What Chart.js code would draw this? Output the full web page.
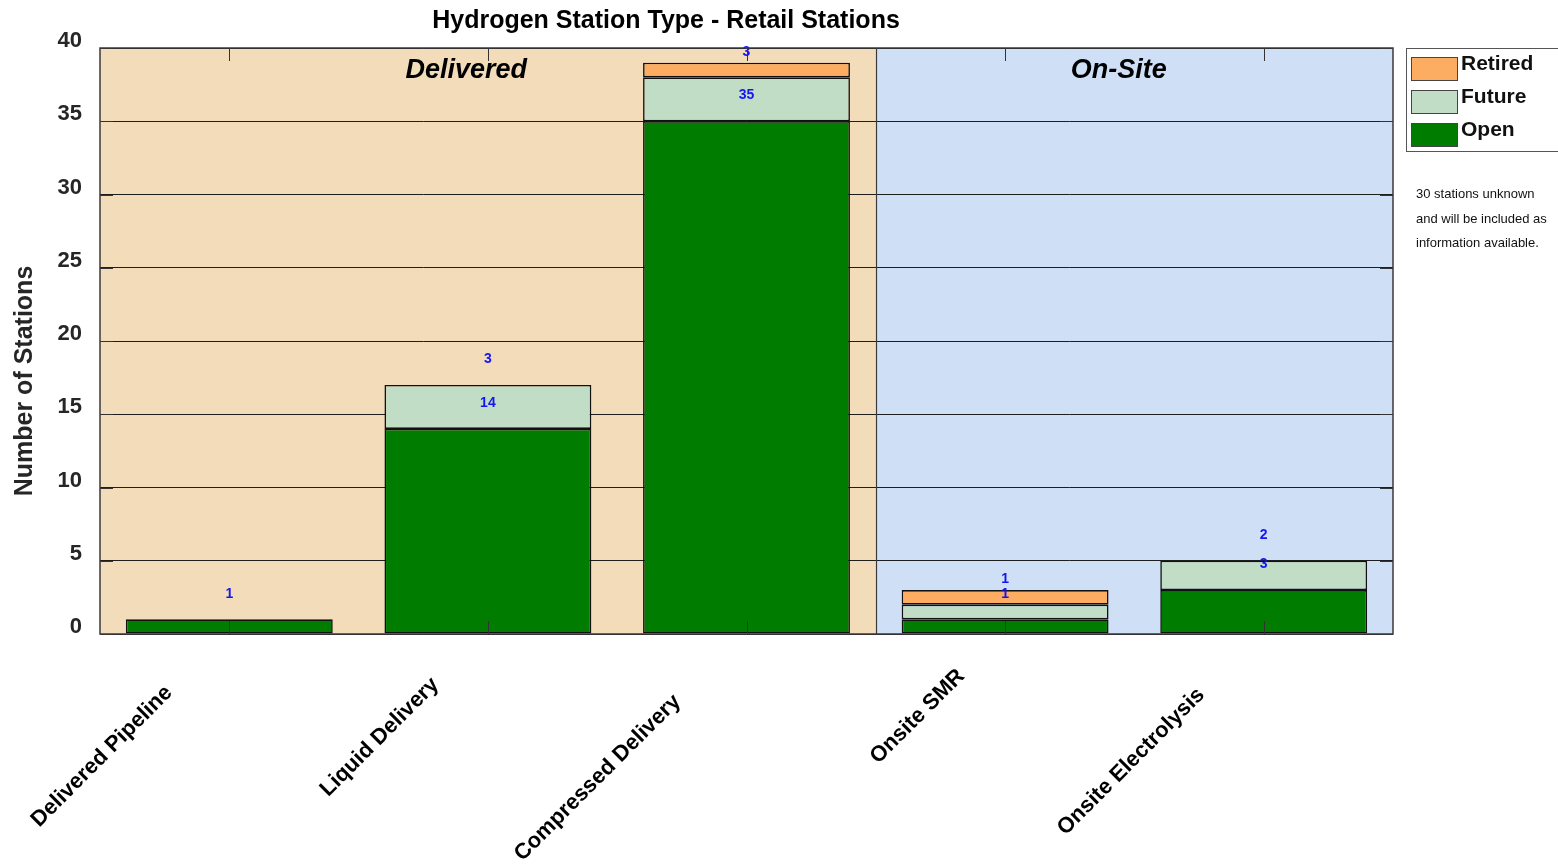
<!DOCTYPE html>
<html>
<head>
<meta charset="utf-8">
<title>Hydrogen Station Type - Retail Stations</title>
<script src="https://cdn.jsdelivr.net/npm/chart.js@4.4.1/dist/chart.umd.min.js"></script>
<style>
  body { margin: 0; background: #fff; }
  #wrap { width: 1558px; height: 864px; }
</style>
</head>
<body>
<div id="wrap"><canvas id="stationChart" width="1558" height="864"></canvas></div>
<script>
// data
const categories = ['Delivered Pipeline', 'Liquid Delivery', 'Compressed Delivery', 'Onsite SMR', 'Onsite Electrolysis'];
const openStations = [1, 14, 35, 1, 3];
const futureStations = [0, 3, 3, 1, 2];
const retiredStations = [0, 0, 1, 1, 0];
const groupNames = ['Delivered', 'On-Site'];
const groupSizes = [3, 2];
const yTicks = [0, 5, 10, 15, 20, 25, 30, 35, 40];
const noteLines = ['30 stations unknown', 'and will be included as', 'information available.'];

const FONT = '"Liberation Sans", Arial, Helvetica, sans-serif';
const colOpen = '#007d00';
const colFuture = '#c2ddc6';
const colRetired = '#fdad62';
const groupColors = ['#f2dcba', '#cfe0f6'];

// background bands for Delivered / On-Site
const bandsPlugin = {
  id: 'bands',
  beforeDraw(chart) {
    const ctx = chart.ctx;
    const area = chart.chartArea;
    const x = chart.scales.x;
    let start = 0;
    let left = area.left;
    ctx.save();
    groupSizes.forEach((n, g) => {
      const last = start + n - 1;
      let right = area.right;
      if (last < categories.length - 1) {
        right = (x.getPixelForValue(last) + x.getPixelForValue(last + 1)) / 2;
      }
      ctx.fillStyle = groupColors[g];
      ctx.fillRect(left, area.top, right - left, area.bottom - area.top);
      left = right;
      start += n;
    });
    ctx.restore();
  }
};

// frame, ticks, labels, legend, notes
const decorPlugin = {
  id: 'decor',
  afterDatasetsDraw(chart) {
    const ctx = chart.ctx;
    const area = chart.chartArea;
    const x = chart.scales.x;
    const y = chart.scales.y;
    ctx.save();

    // value labels above open and future segments
    ctx.fillStyle = '#1414f5';
    ctx.font = 'bold 14px ' + FONT;
    ctx.textAlign = 'center';
    ctx.textBaseline = 'middle';
    categories.forEach((c, i) => {
      const px = x.getPixelForValue(i);
      ctx.fillText(String(openStations[i]), px, y.getPixelForValue(openStations[i] + 1.75));
      if (futureStations[i] > 0) {
        const top = openStations[i] + futureStations[i];
        ctx.fillText(String(futureStations[i]), px, y.getPixelForValue(top + 1.75));
      }
    });

    // tick marks at category centres, top and bottom
    ctx.strokeStyle = '#333';
    ctx.lineWidth = 1;
    categories.forEach((c, i) => {
      const px = Math.round(x.getPixelForValue(i)) + 0.5;
      ctx.beginPath();
      ctx.moveTo(px, area.top);
      ctx.lineTo(px, area.top + 13);
      ctx.moveTo(px, area.bottom);
      ctx.lineTo(px, area.bottom - 13);
      ctx.stroke();
    });
    yTicks.forEach(v => {
      const py = Math.round(y.getPixelForValue(v)) + 0.5;
      ctx.beginPath();
      ctx.moveTo(area.left, py);
      ctx.lineTo(area.left + 13, py);
      ctx.moveTo(area.right, py);
      ctx.lineTo(area.right - 13, py);
      ctx.stroke();
    });

    // group divider and frame
    const divX = Math.round((x.getPixelForValue(groupSizes[0] - 1) + x.getPixelForValue(groupSizes[0])) / 2) + 0.5;
    ctx.strokeStyle = '#3a3a3a';
    ctx.lineWidth = 1.2;
    ctx.beginPath();
    ctx.moveTo(divX, area.top);
    ctx.lineTo(divX, area.bottom);
    ctx.stroke();
    ctx.lineWidth = 1.5;
    ctx.strokeRect(area.left, area.top, area.right - area.left, area.bottom - area.top);

    // group names
    ctx.fillStyle = '#000';
    ctx.font = 'italic bold 27px ' + FONT;
    ctx.textAlign = 'center';
    ctx.textBaseline = 'alphabetic';
    ctx.fillText(groupNames[0], (area.left + divX) / 2 - 22, area.top + 30);
    ctx.fillText(groupNames[1], (divX + area.right) / 2 - 16, area.top + 30);

    // rotated category labels
    ctx.font = 'bold 22px ' + FONT;
    ctx.fillStyle = '#000';
    ctx.textAlign = 'right';
    ctx.textBaseline = 'middle';
    categories.forEach((c, i) => {
      const w = ctx.measureText(c).width;
      const px = x.getPixelForValue(i) - 13 - 0.25 * w;
      const py = area.bottom + 8 + 0.25 * w;
      ctx.save();
      ctx.translate(px, py);
      ctx.rotate(-Math.PI / 4);
      ctx.fillText(c, 0, 0);
      ctx.restore();
    });

    // main title
    ctx.font = 'bold 25px ' + FONT;
    ctx.textAlign = 'center';
    ctx.textBaseline = 'alphabetic';
    ctx.fillStyle = '#000';
    ctx.fillText('Hydrogen Station Type - Retail Stations', 666, 28);

    // y axis title
    ctx.save();
    ctx.translate(25, 381);
    ctx.rotate(-Math.PI / 2);
    ctx.font = 'bold 25px ' + FONT;
    ctx.fillStyle = '#262626';
    ctx.textBaseline = 'middle';
    ctx.fillText('Number of Stations', 0, 0);
    ctx.restore();

    // legend box (reverse order: Retired, Future, Open)
    const lx = area.right + 13;
    ctx.strokeStyle = '#555';
    ctx.lineWidth = 1;
    ctx.strokeRect(lx + 0.5, area.top + 0.5, 200, 103);
    const items = chart.data.datasets.slice().reverse();
    ctx.font = 'bold 21px ' + FONT;
    ctx.textAlign = 'left';
    ctx.textBaseline = 'alphabetic';
    items.forEach((ds, k) => {
      const sy = area.top + 9 + k * 33;
      ctx.fillStyle = ds.backgroundColor;
      ctx.fillRect(lx + 5, sy, 46, 23);
      ctx.strokeStyle = '#444';
      ctx.strokeRect(lx + 5.5, sy + 0.5, 46, 23);
      ctx.fillStyle = '#111';
      ctx.fillText(ds.label, lx + 55, sy + 12 + 1);
    });

    // note under the legend
    ctx.font = '13px ' + FONT;
    ctx.fillStyle = '#111';
    noteLines.forEach((t, k) => {
      ctx.fillText(t, lx + 10, area.top + 150 + k * 24.5);
    });

    ctx.restore();
  }
};

const ctx = document.getElementById('stationChart').getContext('2d');
const stationChart = new Chart(ctx, {
  type: 'bar',
  data: {
    labels: categories,
    datasets: [
      { label: 'Open', data: openStations, backgroundColor: colOpen },
      { label: 'Future', data: futureStations, backgroundColor: colFuture },
      { label: 'Retired', data: retiredStations, backgroundColor: colRetired }
    ]
  },
  options: {
    responsive: false,
    animation: false,
    layout: { padding: { left: 0, top: 48, right: 165, bottom: 230 } },
    datasets: {
      bar: {
        categoryPercentage: 0.8,
        barPercentage: 1.0,
        borderColor: '#111',
        borderWidth: 1.6,
        borderSkipped: false
      }
    },
    plugins: {
      legend: { display: false },
      title: { display: false },
      tooltip: { enabled: false }
    },
    scales: {
      x: {
        stacked: true,
        ticks: { display: false },
        grid: { display: false },
        border: { display: false },
        afterFit: s => { s.height = 0; }
      },
      y: {
        stacked: true,
        min: 0,
        max: 40,
        afterBuildTicks: s => { s.ticks = yTicks.map(v => ({ value: v })); },
        ticks: {
          color: '#262626',
          font: { family: FONT, size: 22, weight: 'bold' },
          padding: 18,
          labelOffset: -7
        },
        grid: { color: '#1e1e1e', lineWidth: 1, drawTicks: false },
        border: { display: false },
        afterFit: s => { s.width = 100; }
      }
    }
  },
  plugins: [bandsPlugin, decorPlugin]
});
</script>
</body>
</html>
